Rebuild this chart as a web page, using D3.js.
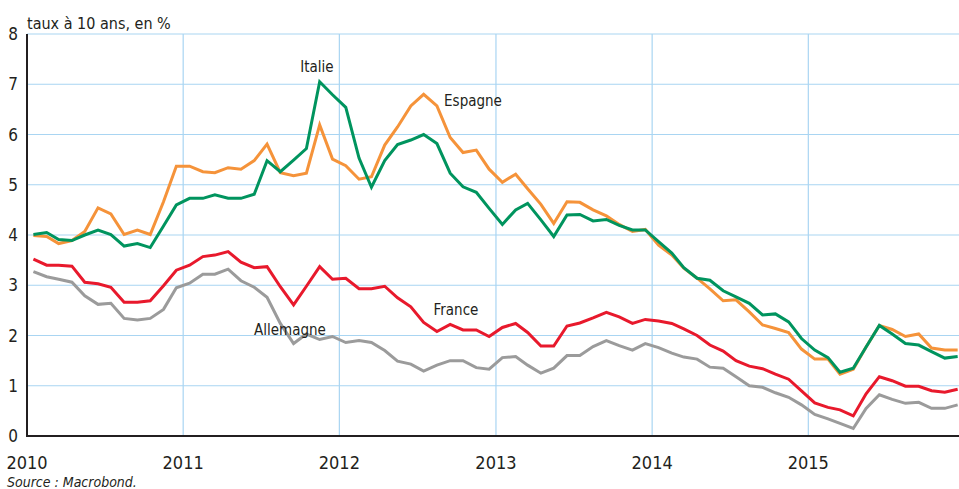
<!DOCTYPE html>
<html lang="fr">
<head>
<meta charset="UTF-8">
<title>Taux à 10 ans</title>
<style>
  body { margin: 0; background: #fff; }
  svg text { font-family: "Liberation Sans Narrow", "DejaVu Sans Condensed", sans-serif; fill: #231f20; }
  .grid line { stroke: #a9d5f2; stroke-width: 1.2px; }
  .series { fill: none; stroke-width: 3px; }
</style>
</head>
<body>
<svg width="959" height="489"></svg>
<script src="https://d3js.org/d3.v7.min.js"></script>
<script>
// monthly 10-year yields, Jan 2010 -> Dec 2015
const italie = [
  4.01, 4.05, 3.91, 3.89, 4.00, 4.10, 4.01, 3.78, 3.83, 3.75, 4.18, 4.60,
  4.73, 4.73, 4.80, 4.73, 4.73, 4.81, 5.48, 5.26, 5.49, 5.72, 7.05, 6.79,
  6.54, 5.53, 4.95, 5.48, 5.80, 5.89, 6.00, 5.82, 5.23, 4.96, 4.85, 4.53,
  4.21, 4.50, 4.63, 4.30, 3.97, 4.40, 4.41, 4.28, 4.31, 4.19, 4.10, 4.10,
  3.87, 3.64, 3.35, 3.14, 3.10, 2.89, 2.77, 2.64, 2.41, 2.43, 2.27, 1.94,
  1.71, 1.56, 1.27, 1.35, 1.77, 2.20, 2.03, 1.84, 1.81, 1.68, 1.55, 1.58
];
const espagne = [
  3.99, 3.97, 3.83, 3.89, 4.07, 4.54, 4.42, 4.01, 4.10, 4.01, 4.66, 5.37,
  5.37, 5.26, 5.24, 5.34, 5.31, 5.48, 5.81, 5.24, 5.18, 5.23, 6.19, 5.51,
  5.38, 5.11, 5.16, 5.79, 6.15, 6.57, 6.80, 6.57, 5.94, 5.64, 5.69, 5.31,
  5.05, 5.21, 4.92, 4.61, 4.23, 4.66, 4.65, 4.50, 4.38, 4.21, 4.07, 4.11,
  3.80, 3.60, 3.34, 3.14, 2.93, 2.69, 2.71, 2.47, 2.21, 2.14, 2.06, 1.73,
  1.53, 1.53, 1.23, 1.33, 1.77, 2.20, 2.12, 1.98, 2.03, 1.75, 1.71, 1.71
];
const france = [
  3.52, 3.40, 3.40, 3.38, 3.06, 3.03, 2.96, 2.66, 2.66, 2.69, 2.99, 3.30,
  3.40, 3.57, 3.60, 3.67, 3.46, 3.35, 3.37, 2.97, 2.61, 2.98, 3.37, 3.12,
  3.14, 2.93, 2.93, 2.98, 2.75, 2.57, 2.26, 2.08, 2.22, 2.11, 2.11, 1.98,
  2.16, 2.24, 2.06, 1.79, 1.79, 2.19, 2.25, 2.35, 2.46, 2.37, 2.24, 2.32,
  2.29, 2.24, 2.13, 2.00, 1.81, 1.69, 1.50, 1.39, 1.34, 1.23, 1.13, 0.90,
  0.66, 0.57, 0.52, 0.40, 0.84, 1.18, 1.10, 0.99, 0.99, 0.90, 0.87, 0.93
];
const allemagne = [
  3.27, 3.17, 3.12, 3.06, 2.79, 2.62, 2.64, 2.34, 2.31, 2.34, 2.52, 2.95,
  3.04, 3.22, 3.22, 3.32, 3.09, 2.96, 2.76, 2.24, 1.84, 2.03, 1.92, 1.98,
  1.86, 1.90, 1.86, 1.70, 1.49, 1.43, 1.29, 1.41, 1.50, 1.50, 1.36, 1.33,
  1.56, 1.58, 1.41, 1.25, 1.35, 1.60, 1.60, 1.78, 1.90, 1.80, 1.71, 1.84,
  1.76, 1.65, 1.57, 1.53, 1.37, 1.35, 1.18, 1.00, 0.97, 0.86, 0.77, 0.62,
  0.43, 0.34, 0.25, 0.15, 0.55, 0.82, 0.73, 0.65, 0.67, 0.55, 0.55, 0.62
];
const yearTicks = [2010, 2011, 2012, 2013, 2014, 2015];
const yTicks = [0, 1, 2, 3, 4, 5, 6, 7, 8];

// one date per observation, mid-month
const months = d3.range(72).map(i => new Date(2010, i, 16));

const series = [
  { name: "Allemagne", values: allemagne, color: "#9b9b9b", lx: 290, ly: 335 },
  { name: "France",    values: france,    color: "#e8192c", lx: 456, ly: 315 },
  { name: "Espagne",   values: espagne,   color: "#f5933a", lx: 473, ly: 106 },
  { name: "Italie",    values: italie,    color: "#00945e", lx: 317, ly: 72 }
];

const W = 959, H = 489;
const mLeft = 27, mTop = 34, mBottom = 436;
const svg = d3.select("svg");

const x = d3.scaleTime()
    .domain([new Date(2010, 0, 1), new Date(2016, 0, 1)])
    .range([mLeft, mLeft + 6 * 156.25]);
const y = d3.scaleLinear().domain([0, 8]).range([mBottom, mTop]);

svg.append("clipPath").attr("id", "plot")
  .append("rect").attr("x", mLeft).attr("y", 0).attr("width", W - mLeft).attr("height", mBottom);

// grid
const grid = svg.append("g").attr("class", "grid");
grid.selectAll("line.h").data(yTicks.slice(1)).join("line")
    .attr("class", "h")
    .attr("x1", mLeft).attr("x2", W)
    .attr("y1", d => y(d)).attr("y2", d => y(d));
grid.selectAll("line.v").data(yearTicks.slice(1)).join("line")
    .attr("class", "v")
    .attr("x1", d => x(new Date(d, 0, 1))).attr("x2", d => x(new Date(d, 0, 1)))
    .attr("y1", mTop).attr("y2", mBottom);

// series
const line = d3.line()
    .x((d, i) => x(months[i]))
    .y(d => y(d));

svg.append("g").attr("clip-path", "url(#plot)")
  .selectAll("path").data(series).join("path")
    .attr("class", "series")
    .attr("stroke", d => d.color)
    .attr("d", d => line(d.values));

// axes lines
svg.append("line").attr("x1", mLeft).attr("x2", mLeft).attr("y1", mTop).attr("y2", mBottom + 1)
    .attr("stroke", "#231f20").attr("stroke-width", 2);
svg.append("line").attr("x1", mLeft - 1).attr("x2", W).attr("y1", mBottom).attr("y2", mBottom)
    .attr("stroke", "#231f20").attr("stroke-width", 2);

// tick labels
svg.append("g").selectAll("text").data(yTicks).join("text")
    .attr("x", 18).attr("y", d => y(d) + 6)
    .attr("text-anchor", "end")
    .style("font-size", "17px")
    .text(d => d);

svg.append("g").selectAll("text").data(yearTicks).join("text")
    .attr("x", d => x(new Date(d, 0, 1))).attr("y", 469)
    .attr("text-anchor", "middle")
    .style("font-size", "18px")
    .text(d => d);

// series labels
svg.append("g").selectAll("text").data(series).join("text")
    .attr("x", d => d.lx).attr("y", d => d.ly)
    .attr("text-anchor", "middle")
    .style("font-size", "15px")
    .text(d => d.name);

svg.append("text").attr("x", 27).attr("y", 29)
    .style("font-size", "16px")
    .text("taux à 10 ans, en %");

svg.append("text").attr("x", 7).attr("y", 487)
    .style("font-size", "14px").style("font-style", "italic")
    .text("Source : Macrobond.");
</script>
</body>
</html>
